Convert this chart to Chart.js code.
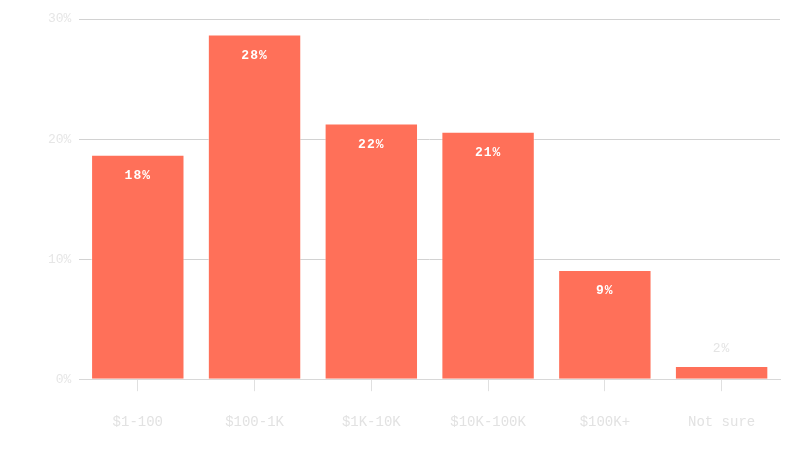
<!DOCTYPE html>
<html>
<head>
<meta charset="utf-8">
<script src="https://cdn.jsdelivr.net/npm/chart.js@4"></script>
<style>
  html, body { margin: 0; padding: 0; background: #fff; }
  #wrap { width: 800px; height: 460px; }
</style>
</head>
<body>
<div id="wrap"><canvas id="chart"></canvas></div>
<script>
// chart data
const categories = ["$1-100", "$100-1K", "$1K-10K", "$10K-100K", "$100K+", "Not sure"];
const shares = [18.7, 28.7, 21.3, 20.6, 9.1, 1.1];
const shareLabels = [18, 28, 22, 21, 9, 2];
const yTicks = [0, 10, 20, 30];

const barColor = "#ff7059";
const mono = "'Liberation Mono', 'DejaVu Sans Mono', monospace";

// value labels: inside the bar, or above it when the bar is too short
const barLabels = {
  id: "barLabels",
  afterDatasetsDraw(chart) {
    const ctx = chart.ctx;
    const meta = chart.getDatasetMeta(0);
    ctx.save();
    ctx.textAlign = "center";
    ctx.textBaseline = "middle";
    ctx.letterSpacing = "1px";
    meta.data.forEach((bar, i) => {
      const text = shareLabels[i] + "%";
      const h = bar.base - bar.y;
      if (h > 40) {
        ctx.font = "bold 13px " + mono;
        ctx.fillStyle = "#ffffff";
        ctx.fillText(text, bar.x, bar.y + 21);
      } else {
        ctx.font = "13px " + mono;
        ctx.fillStyle = "#e4e4e4";
        ctx.fillText(text, bar.x, bar.y - 17);
      }
    });
    ctx.restore();
  }
};

new Chart(document.getElementById("chart"), {
  type: "bar",
  data: {
    labels: categories,
    datasets: [{
      data: shares,
      backgroundColor: barColor,
      borderColor: "rgba(255,255,255,0.45)",
      borderWidth: 1,
      categoryPercentage: 1,
      barPercentage: 0.8
    }]
  },
  options: {
    responsive: true,
    maintainAspectRatio: false,
    animation: false,
    layout: { padding: { top: 19, right: 20, left: 40, bottom: 6 } },
    plugins: { legend: { display: false }, tooltip: { enabled: false } },
    scales: {
      y: {
        min: 0,
        max: 30,
        afterBuildTicks: axis => { axis.ticks = yTicks.map(v => ({ value: v })); },
        border: { display: false },
        grid: { color: "#d2d2d2", lineWidth: 1, drawTicks: false },
        ticks: {
          padding: 8,
          color: "#e6e6e6",
          font: { family: mono, size: 13 },
          callback: v => v + "%"
        }
      },
      x: {
        border: { display: true, color: "#d8d8d8" },
        grid: { display: true, drawOnChartArea: false, offset: false, color: "#e0e0e0", tickLength: 12 },
        ticks: {
          padding: 23,
          color: "#e2e2e2",
          font: { family: mono, size: 14 }
        }
      }
    }
  },
  plugins: [barLabels]
});
</script>
</body>
</html>
